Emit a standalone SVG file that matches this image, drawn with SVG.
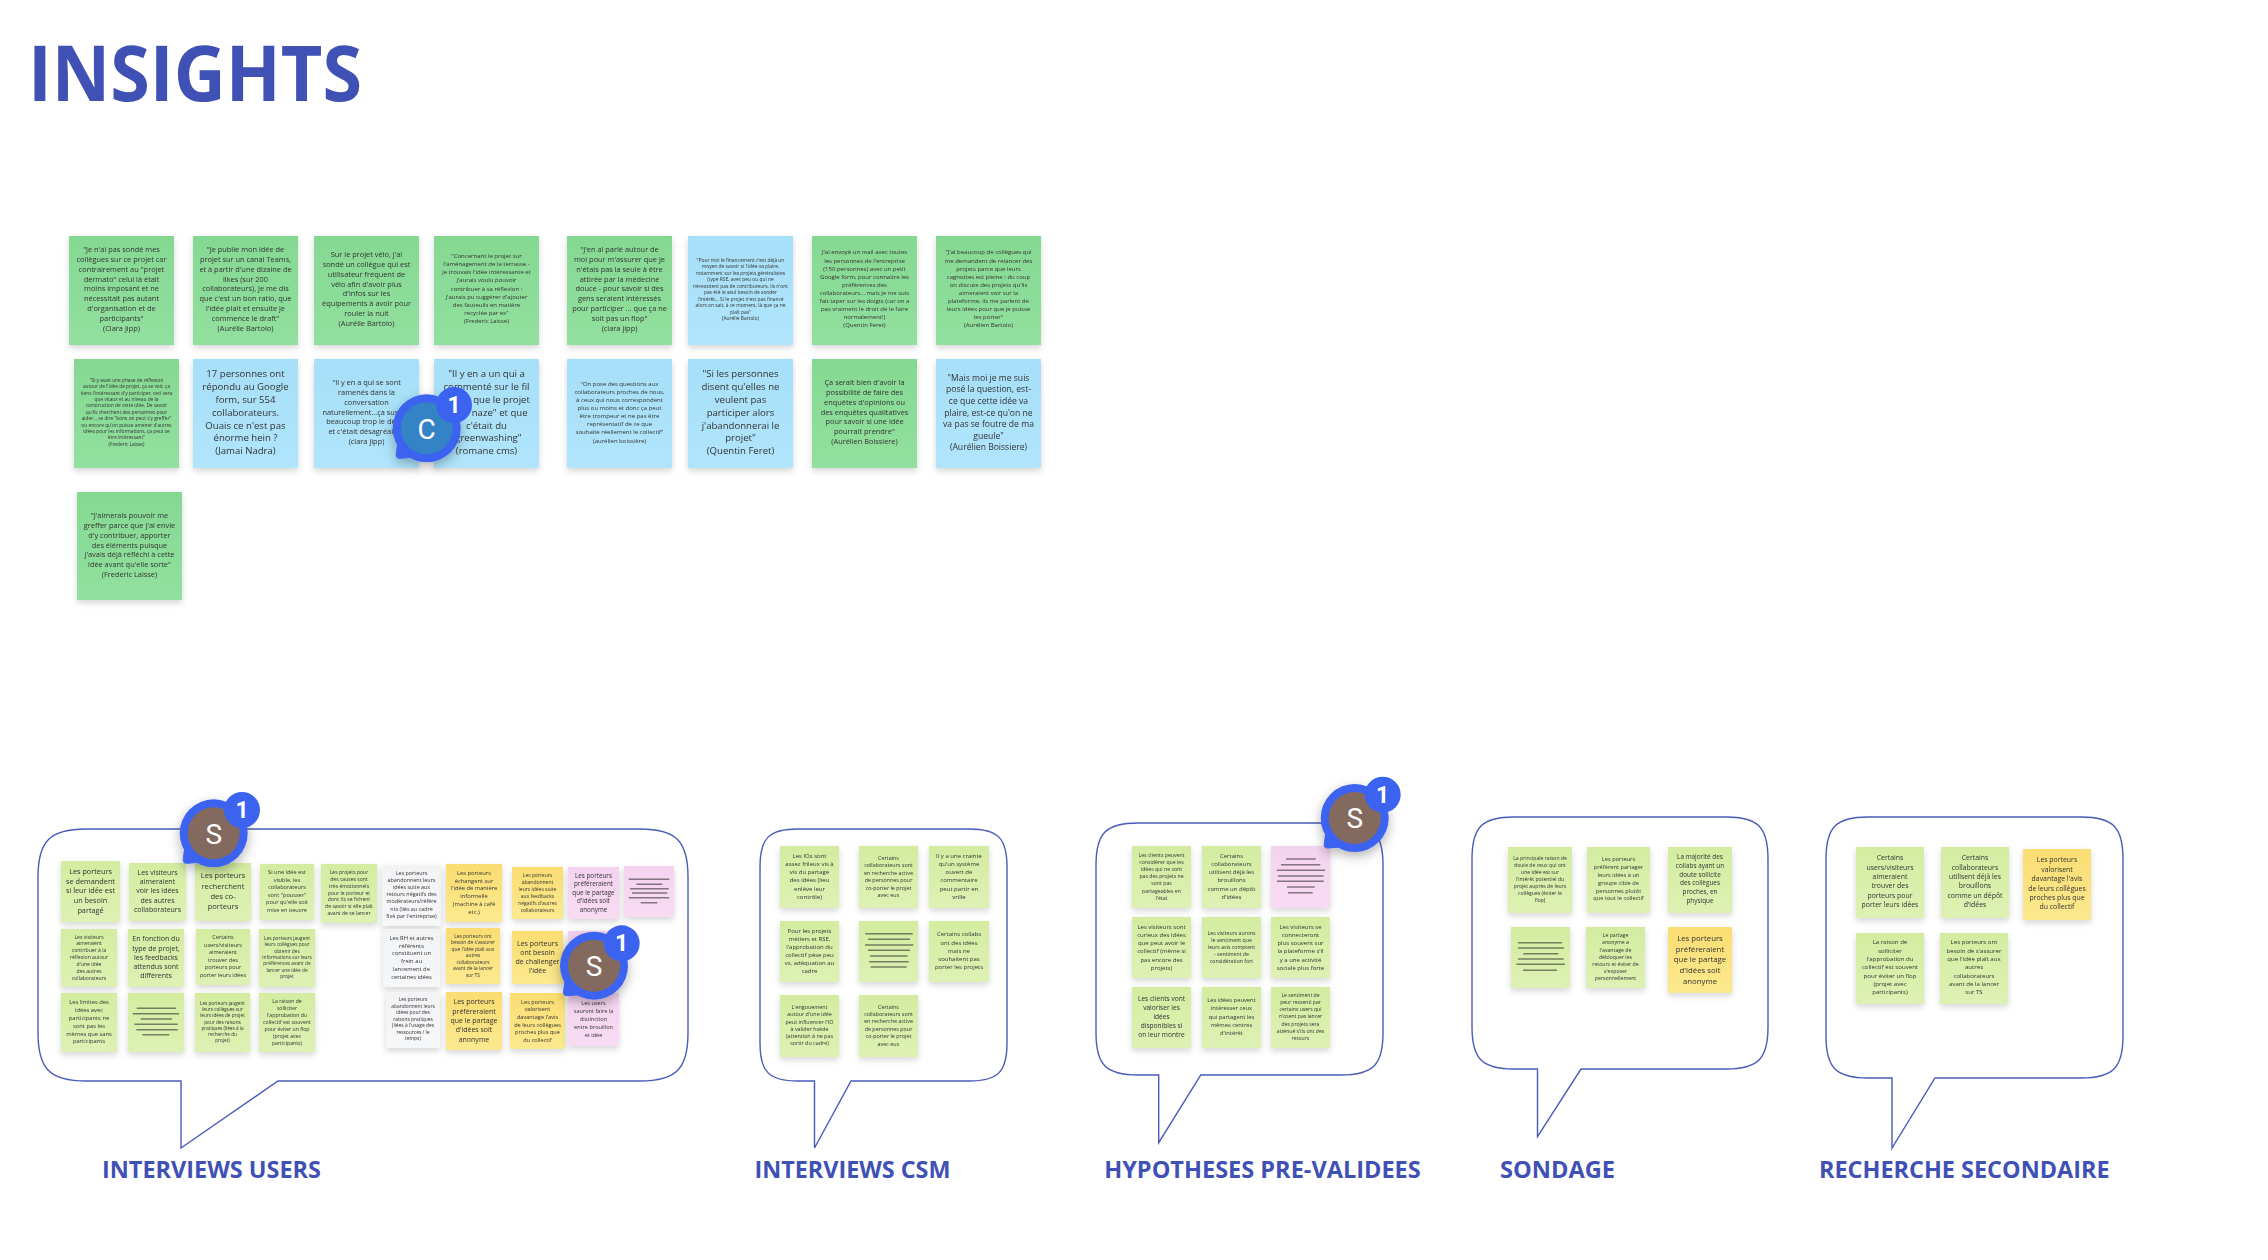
<svg xmlns="http://www.w3.org/2000/svg" xmlns:xlink="http://www.w3.org/1999/xlink" width="2268" height="1260" viewBox="0 0 2268 1260">
<style>
text{font-family:"Open Sans","Noto Sans","DejaVu Sans",sans-serif}
.t{fill:#333;text-anchor:middle;filter:url(#soft)}
.st{filter:url(#sh)}
.green{fill:url(#gGreen)}.blue{fill:url(#gBlue)}.lime{fill:url(#gLime)}.yellow{fill:url(#gYellow)}.pink{fill:url(#gPink)}.white{fill:url(#gWhite)}
.bars{fill:none;stroke:#222;stroke-opacity:.55;stroke-width:1.6}
.bub{fill:#fff;stroke:#4a5bb8;stroke-width:1.4}
.title{font-weight:700;fill:#3f51b5;font-size:77px}
.lab{font-weight:700;fill:#3f51b5;font-size:23.400px}
.ini{font-family:Roboto,"Open Sans",sans-serif;fill:#fff;font-size:28px;text-anchor:middle}
.num{font-family:Roboto,"Open Sans",sans-serif;font-weight:700;fill:#fff;font-size:23px;text-anchor:middle}
</style>
<defs>
<linearGradient id="gGreen" x1="0" y1="0" x2="0" y2="1"><stop offset="0" stop-color="#85d892"/><stop offset="1" stop-color="#92e09f"/></linearGradient>
<linearGradient id="gBlue" x1="0" y1="0" x2="0" y2="1"><stop offset="0" stop-color="#a6dff8"/><stop offset="1" stop-color="#b0e5fc"/></linearGradient>
<linearGradient id="gLime" x1="0" y1="0" x2="0" y2="1"><stop offset="0" stop-color="#d3eca0"/><stop offset="1" stop-color="#def1b4"/></linearGradient>
<linearGradient id="gYellow" x1="0" y1="0" x2="0" y2="1"><stop offset="0" stop-color="#fadd72"/><stop offset="1" stop-color="#fce98f"/></linearGradient>
<linearGradient id="gPink" x1="0" y1="0" x2="0" y2="1"><stop offset="0" stop-color="#f4d3ee"/><stop offset="1" stop-color="#f8dcf3"/></linearGradient>
<linearGradient id="gWhite" x1="0" y1="0" x2="0" y2="1"><stop offset="0" stop-color="#f2f3f5"/><stop offset="1" stop-color="#f6f7f9"/></linearGradient>
<filter id="sh" x="-20%" y="-20%" width="140%" height="150%"><feDropShadow dx="0" dy="3" stdDeviation="3" flood-color="#000" flood-opacity=".16"/></filter>
<filter id="bsh" x="-40%" y="-40%" width="180%" height="180%"><feDropShadow dx="0" dy="4" stdDeviation="6" flood-color="#000" flood-opacity=".3"/></filter>
<filter id="soft" x="-5%" y="-5%" width="110%" height="110%"><feGaussianBlur stdDeviation=".3"/></filter>
<g id="badge"><g filter="url(#bsh)"><circle r="34" fill="#3b63f0"/><path d="M-29 15L-30.500 26Q-31 30.500-26 30L-14 29Z" fill="#3b63f0" stroke="#3b63f0" stroke-width="1"/></g></g>
</defs>
<rect width="2268" height="1260" fill="#fff"/>
<text id="title" class="title" x="28" y="101" textLength="334" lengthAdjust="spacingAndGlyphs">INSIGHTS</text>

<g id="bubbles">
<path class="bub" d="M86 829H640C676 829 688 841 688 877V1033C688 1069 676 1081 640 1081H278L181 1148V1081H86C50 1081 38 1069 38 1033V877C38 841 50 829 86 829Z"/>
<path class="bub" d="M798 829H969C998 829 1007 838 1007 867V1043C1007 1072 998 1081 969 1081H851L814.500 1148V1081H798C769 1081 760 1072 760 1043V867C760 838 769 829 798 829Z"/>
<path class="bub" d="M1138 823H1341C1373 823 1383 833 1383 865V1033C1383 1065 1373 1075 1341 1075H1200.800L1158.700 1142.700V1075H1138C1106 1075 1096 1065 1096 1033V865C1096 833 1106 823 1138 823Z"/>
<path class="bub" d="M1514 817H1726C1758 817 1768 827 1768 859V1027C1768 1059 1758 1069 1726 1069H1581L1537.500 1136.700V1069H1514C1482 1069 1472 1059 1472 1027V859C1472 827 1482 817 1514 817Z"/>
<path class="bub" d="M1868 817H2081C2113 817 2123 827 2123 859V1036C2123 1068 2113 1078 2081 1078H1935L1892 1148V1078H1868C1836 1078 1826 1068 1826 1036V859C1826 827 1836 817 1868 817Z"/>
</g>
<g id="labels">
<text class="lab" x="102" y="1178" textLength="219" lengthAdjust="spacingAndGlyphs">INTERVIEWS USERS</text>
<text class="lab" x="754.500" y="1178" textLength="196" lengthAdjust="spacingAndGlyphs">INTERVIEWS CSM</text>
<text class="lab" x="1104.200" y="1178" textLength="316.500" lengthAdjust="spacingAndGlyphs">HYPOTHESES PRE-VALIDEES</text>
<text class="lab" x="1500" y="1178" textLength="115" lengthAdjust="spacingAndGlyphs">SONDAGE</text>
<text class="lab" x="1819" y="1178" textLength="290.500" lengthAdjust="spacingAndGlyphs">RECHERCHE SECONDAIRE</text>
</g>

<g id="q1"><rect class="st green" x="69" y="236" width="105" height="109"/><text class="t" font-size="7.4" y="252"><tspan x="121.500">"Je n'ai pas sondé mes</tspan><tspan x="121.500" dy="9.87">collègues sur ce projet car</tspan><tspan x="121.500" dy="9.87">contrairement au "projet</tspan><tspan x="121.500" dy="9.87">dermato" celui là était</tspan><tspan x="121.500" dy="9.87">moins imposant et ne</tspan><tspan x="121.500" dy="9.87">nécessitait pas autant</tspan><tspan x="121.500" dy="9.87">d'organisation et de</tspan><tspan x="121.500" dy="9.87">participants"</tspan><tspan x="121.500" dy="9.87">(Clara Jipp)</tspan></text></g>
<g id="q2"><rect class="st green" x="193" y="236" width="105" height="109"/><text class="t" font-size="7.4" y="252"><tspan x="245.500">"Je publie mon idée de</tspan><tspan x="245.500" dy="9.87">projet sur un canal Teams,</tspan><tspan x="245.500" dy="9.87">et à partir d'une dizaine de</tspan><tspan x="245.500" dy="9.87">likes (sur 200</tspan><tspan x="245.500" dy="9.87">collaborateurs), je me dis</tspan><tspan x="245.500" dy="9.87">que c'est un bon ratio, que</tspan><tspan x="245.500" dy="9.87">l'idée plait et ensuite je</tspan><tspan x="245.500" dy="9.87">commence le draft"</tspan><tspan x="245.500" dy="9.87">(Aurélie Bartolo)</tspan></text></g>
<g id="q3"><rect class="st green" x="314" y="236" width="105" height="109"/><text class="t" font-size="7.4" y="256.900"><tspan x="366.500">Sur le projet vélo, j'ai</tspan><tspan x="366.500" dy="9.87">sondé un collègue qui est</tspan><tspan x="366.500" dy="9.87">utilisateur fréquent de</tspan><tspan x="366.500" dy="9.87">vélo afin d'avoir plus</tspan><tspan x="366.500" dy="9.87">d'infos sur les</tspan><tspan x="366.500" dy="9.87">équipements à avoir pour</tspan><tspan x="366.500" dy="9.87">rouler la nuit</tspan><tspan x="366.500" dy="9.87">(Aurélie Bartolo)</tspan></text></g>
<g id="q4"><rect class="st green" x="434" y="236" width="105" height="109"/><text class="t" font-size="6" y="258.100"><tspan x="486.500">"Concernant le projet sur</tspan><tspan x="486.500" dy="8.1">l'aménagement de la terrasse -</tspan><tspan x="486.500" dy="8.1">je trouvais l'idée intéressante et</tspan><tspan x="486.500" dy="8.1">j'aurais voulu pouvoir</tspan><tspan x="486.500" dy="8.1">contribuer à sa réflexion :</tspan><tspan x="486.500" dy="8.1">j'aurais pu suggérer d'ajouter</tspan><tspan x="486.500" dy="8.1">des fauteuils en matière</tspan><tspan x="486.500" dy="8.1">recyclée par ex"</tspan><tspan x="486.500" dy="8.1">(Frederic Laisse)</tspan></text></g>
<g id="q5"><rect class="st green" x="74" y="359" width="105" height="109"/><text class="t" font-size="4.8" y="381.700"><tspan x="126.500">"Si y avait une phase de réflexion</tspan><tspan x="126.500" dy="6.4">autour de l'idée de projet, ça se voit, ça</tspan><tspan x="126.500" dy="6.4">tiens l'intéressant d'y participer, ceci sera</tspan><tspan x="126.500" dy="6.4">que vitaux et au niveau de la</tspan><tspan x="126.500" dy="6.4">construction de cette idée. De savoir</tspan><tspan x="126.500" dy="6.4">qu'ils cherchent des personnes pour</tspan><tspan x="126.500" dy="6.4">aider... se dire "bons on peut s'y greffer"</tspan><tspan x="126.500" dy="6.4">ou encore qu'on puisse amener d'autres</tspan><tspan x="126.500" dy="6.4">idées pour les informations, ça peut se</tspan><tspan x="126.500" dy="6.4">être intéressant"</tspan><tspan x="126.500" dy="6.4">(Frederic Laisse)</tspan></text></g>
<g id="q6"><rect class="st blue" x="193" y="359" width="105" height="109"/><text class="t" font-size="9.6" y="377.400"><tspan x="245.500">17 personnes ont</tspan><tspan x="245.500" dy="12.8">répondu au Google</tspan><tspan x="245.500" dy="12.8">form, sur 554</tspan><tspan x="245.500" dy="12.8">collaborateurs.</tspan><tspan x="245.500" dy="12.8">Ouais ce n'est pas</tspan><tspan x="245.500" dy="12.8">énorme hein ?</tspan><tspan x="245.500" dy="12.8">(Jamai Nadra)</tspan></text></g>
<g id="q7"><rect class="st blue" x="314" y="359" width="105" height="109"/><text class="t" font-size="7.4" y="384.900"><tspan x="366.500">"Il y en a qui se sont</tspan><tspan x="366.500" dy="9.87">ramenés dans la</tspan><tspan x="366.500" dy="9.87">conversation</tspan><tspan x="366.500" dy="9.87">naturellement...ça suscite</tspan><tspan x="366.500" dy="9.87">beaucoup trop le débat</tspan><tspan x="366.500" dy="9.87">et c'était désagréable"</tspan><tspan x="366.500" dy="9.87">(clara jipp)</tspan></text></g>
<g id="q8"><rect class="st blue" x="434" y="359" width="105" height="109"/><text class="t" font-size="9.6" y="377.400"><tspan x="486.500">"Il y en a un qui a</tspan><tspan x="486.500" dy="12.8">commenté sur le fil</tspan><tspan x="486.500" dy="12.8">disant que le projet</tspan><tspan x="486.500" dy="12.8">était "naze" et que</tspan><tspan x="486.500" dy="12.8">c'était du</tspan><tspan x="486.500" dy="12.8">"greenwashing"</tspan><tspan x="486.500" dy="12.8">(romane cms)</tspan></text></g>
<g id="q9"><rect class="st green" x="567" y="236" width="105" height="109"/><text class="t" font-size="7.4" y="252"><tspan x="619.500">"J'en ai parlé autour de</tspan><tspan x="619.500" dy="9.87">moi pour m'assurer que je</tspan><tspan x="619.500" dy="9.87">n'étais pas la seule à être</tspan><tspan x="619.500" dy="9.87">attirée par la médecine</tspan><tspan x="619.500" dy="9.87">douce - pour savoir si des</tspan><tspan x="619.500" dy="9.87">gens seraient intéressés</tspan><tspan x="619.500" dy="9.87">pour participer ... que ça ne</tspan><tspan x="619.500" dy="9.87">soit pas un flop"</tspan><tspan x="619.500" dy="9.87">(clara jipp)</tspan></text></g>
<g id="q10"><rect class="st blue" x="688" y="236" width="105" height="109"/><text class="t" font-size="4.9" y="261.700"><tspan x="740.500">"Pour moi le financement c'est déjà un</tspan><tspan x="740.500" dy="6.5">moyen de savoir si l'idée va plaire,</tspan><tspan x="740.500" dy="6.5">notamment sur les projets généralistes</tspan><tspan x="740.500" dy="6.5">(type RSE, avec peu ou qui ne</tspan><tspan x="740.500" dy="6.5">nécessitent pas de contributeurs, ils n'ont</tspan><tspan x="740.500" dy="6.5">pas été le seul besoin de sonder</tspan><tspan x="740.500" dy="6.5">l'intérêt... Si le projet n'est pas financé</tspan><tspan x="740.500" dy="6.5">alors on sait, à ce moment, là que ça ne</tspan><tspan x="740.500" dy="6.5">plaît pas"</tspan><tspan x="740.500" dy="6.5">(Aurélie Bartolo)</tspan></text></g>
<g id="q11"><rect class="st green" x="812" y="236" width="105" height="109"/><text class="t" font-size="6" y="254.400"><tspan x="864.500">J'ai envoyé un mail avec toutes</tspan><tspan x="864.500" dy="8.1">les personnes de l'entreprise</tspan><tspan x="864.500" dy="8.1">(150 personnes) avec un petit</tspan><tspan x="864.500" dy="8.1">Google form, pour connaitre les</tspan><tspan x="864.500" dy="8.1">préférences des</tspan><tspan x="864.500" dy="8.1">collaborateurs... mais je me suis</tspan><tspan x="864.500" dy="8.1">fait taper sur les doigts (car on a</tspan><tspan x="864.500" dy="8.1">pas vraiment le droit de le faire</tspan><tspan x="864.500" dy="8.1">normalement!)</tspan><tspan x="864.500" dy="8.1">(Quentin Feret)</tspan></text></g>
<g id="q12"><rect class="st green" x="936" y="236" width="105" height="109"/><text class="t" font-size="6" y="254.400"><tspan x="988.500">"J'ai beaucoup de collègues qui</tspan><tspan x="988.500" dy="8.1">me demandent de relancer des</tspan><tspan x="988.500" dy="8.1">projets parce que leurs</tspan><tspan x="988.500" dy="8.1">cagnottes est pleine : du coup</tspan><tspan x="988.500" dy="8.1">on discute des projets qu'ils</tspan><tspan x="988.500" dy="8.1">aimeraient voir sur la</tspan><tspan x="988.500" dy="8.1">plateforme, ils me parlent de</tspan><tspan x="988.500" dy="8.1">leurs idées pour que je puisse</tspan><tspan x="988.500" dy="8.1">les porter"</tspan><tspan x="988.500" dy="8.1">(Aurélien Bartolo)</tspan></text></g>
<g id="q13"><rect class="st blue" x="567" y="359" width="105" height="109"/><text class="t" font-size="6" y="385.800"><tspan x="619.500">"On pose des questions aux</tspan><tspan x="619.500" dy="8.1">collaborateurs proches de nous,</tspan><tspan x="619.500" dy="8.1">à ceux qui nous correspondent</tspan><tspan x="619.500" dy="8.1">plus ou moins et donc ça peut</tspan><tspan x="619.500" dy="8.1">être trompeur et ne pas être</tspan><tspan x="619.500" dy="8.1">représentatif de ce que</tspan><tspan x="619.500" dy="8.1">souhaite réellement le collectif"</tspan><tspan x="619.500" dy="8.1">(aurélien boissière)</tspan></text></g>
<g id="q14"><rect class="st blue" x="688" y="359" width="105" height="109"/><text class="t" font-size="9.6" y="377.400"><tspan x="740.500">"Si les personnes</tspan><tspan x="740.500" dy="12.8">disent qu'elles ne</tspan><tspan x="740.500" dy="12.8">veulent pas</tspan><tspan x="740.500" dy="12.8">participer alors</tspan><tspan x="740.500" dy="12.8">j'abandonnerai le</tspan><tspan x="740.500" dy="12.8">projet"</tspan><tspan x="740.500" dy="12.8">(Quentin Feret)</tspan></text></g>
<g id="q15"><rect class="st green" x="812" y="359" width="105" height="109"/><text class="t" font-size="7.4" y="384.900"><tspan x="864.500">Ça serait bien d'avoir la</tspan><tspan x="864.500" dy="9.87">possibilité de faire des</tspan><tspan x="864.500" dy="9.87">enquêtes d'opinions ou</tspan><tspan x="864.500" dy="9.87">des enquêtes qualitatives</tspan><tspan x="864.500" dy="9.87">pour savoir si une idée</tspan><tspan x="864.500" dy="9.87">pourrait prendre"</tspan><tspan x="864.500" dy="9.87">(Aurélien Boissiere)</tspan></text></g>
<g id="q16"><rect class="st blue" x="936" y="359" width="105" height="109"/><text class="t" font-size="8.6" y="380.700"><tspan x="988.500">"Mais moi je me suis</tspan><tspan x="988.500" dy="11.6">posé la question, est-</tspan><tspan x="988.500" dy="11.6">ce que cette idée va</tspan><tspan x="988.500" dy="11.6">plaire, est-ce qu'on ne</tspan><tspan x="988.500" dy="11.6">va pas se foutre de ma</tspan><tspan x="988.500" dy="11.6">gueule"</tspan><tspan x="988.500" dy="11.6">(Aurélien Boissiere)</tspan></text></g>
<g id="q17"><rect class="st green" x="77" y="492" width="105" height="108"/><text class="t" font-size="7.4" y="517.900"><tspan x="129.500">"J'aimerais pouvoir me</tspan><tspan x="129.500" dy="9.87">greffer parce que j'ai envie</tspan><tspan x="129.500" dy="9.87">d'y contribuer, apporter</tspan><tspan x="129.500" dy="9.87">des éléments puisque</tspan><tspan x="129.500" dy="9.87">j'avais déjà réfléchi à cette</tspan><tspan x="129.500" dy="9.87">idée avant qu'elle sorte"</tspan><tspan x="129.500" dy="9.87">(Frederic Laisse)</tspan></text></g>

<g id="u1"><rect class="st lime" x="61" y="861" width="59" height="61"/><text class="t" font-size="7.3" y="873.900"><tspan x="90.500">Les porteurs</tspan><tspan x="90.500" dy="9.7">se demandent</tspan><tspan x="90.500" dy="9.7">si leur idée est</tspan><tspan x="90.500" dy="9.7">un besoin</tspan><tspan x="90.500" dy="9.7">partagé</tspan></text></g>
<g id="u2"><rect class="st lime" x="129" y="863" width="57" height="58"/><text class="t" font-size="7" y="874.800"><tspan x="157.500">Les visiteurs</tspan><tspan x="157.500" dy="9.3">aimeraient</tspan><tspan x="157.500" dy="9.3">voir les idées</tspan><tspan x="157.500" dy="9.3">des autres</tspan><tspan x="157.500" dy="9.3">collaborateurs</tspan></text></g>
<g id="u3"><rect class="st lime" x="195" y="863" width="56" height="58"/><text class="t" font-size="7.6" y="878.400"><tspan x="223">Les porteurs</tspan><tspan x="223" dy="10.2">recherchent</tspan><tspan x="223" dy="10.2">des co-</tspan><tspan x="223" dy="10.2">porteurs</tspan></text></g>
<g id="u4"><rect class="st lime" x="260" y="864" width="54" height="56"/><text class="t" font-size="5.6" y="874.300"><tspan x="287">Si une idée est</tspan><tspan x="287" dy="7.5">visible, les</tspan><tspan x="287" dy="7.5">collaborateurs</tspan><tspan x="287" dy="7.5">vont "pousser"</tspan><tspan x="287" dy="7.5">pour qu'elle soit</tspan><tspan x="287" dy="7.5">mise en oeuvre</tspan></text></g>
<g id="u5"><rect class="st lime" x="321" y="864" width="56" height="59"/><text class="t" font-size="5.1" y="874.100"><tspan x="349">Les projets pour</tspan><tspan x="349" dy="6.8">des causes sont</tspan><tspan x="349" dy="6.8">très émotionnels</tspan><tspan x="349" dy="6.8">pour le porteur et</tspan><tspan x="349" dy="6.8">donc ils se fichent</tspan><tspan x="349" dy="6.8">de savoir si elle plaît</tspan><tspan x="349" dy="6.8">avant de se lancer</tspan></text></g>
<g id="u6"><rect class="st lime" x="61" y="929" width="56" height="58"/><text class="t" font-size="5.1" y="938.500"><tspan x="89">Les visiteurs</tspan><tspan x="89" dy="6.85">aimeraient</tspan><tspan x="89" dy="6.85">contribuer à la</tspan><tspan x="89" dy="6.85">réflexion autour</tspan><tspan x="89" dy="6.85">d'une idée</tspan><tspan x="89" dy="6.85">des autres</tspan><tspan x="89" dy="6.85">collaborateurs</tspan></text></g>
<g id="u7"><rect class="st lime" x="128" y="929" width="56" height="58"/><text class="t" font-size="7" y="941.200"><tspan x="156">En fonction du</tspan><tspan x="156" dy="9.3">type de projet,</tspan><tspan x="156" dy="9.3">les feedbacks</tspan><tspan x="156" dy="9.3">attendus sont</tspan><tspan x="156" dy="9.3">différents</tspan></text></g>
<g id="u8"><rect class="st lime" x="196" y="929" width="54" height="56"/><text class="t" font-size="5.6" y="939"><tspan x="223">Certains</tspan><tspan x="223" dy="7.5">users/visiteurs</tspan><tspan x="223" dy="7.5">aimeraient</tspan><tspan x="223" dy="7.5">trouver des</tspan><tspan x="223" dy="7.5">porteurs pour</tspan><tspan x="223" dy="7.5">porter leurs idées</tspan></text></g>
<g id="u9"><rect class="st lime" x="259" y="929" width="56" height="58"/><text class="t" font-size="4.8" y="939.700"><tspan x="287">Les porteurs jaugent</tspan><tspan x="287" dy="6.4">leurs collègues pour</tspan><tspan x="287" dy="6.4">obtenir des</tspan><tspan x="287" dy="6.4">informations sur leurs</tspan><tspan x="287" dy="6.4">préférences avant de</tspan><tspan x="287" dy="6.4">lancer une idée de</tspan><tspan x="287" dy="6.4">projet</tspan></text></g>
<g id="u10"><rect class="st lime" x="61" y="993" width="56" height="59"/><text class="t" font-size="5.8" y="1004.300"><tspan x="89">Les limites des</tspan><tspan x="89" dy="7.8">idées avec</tspan><tspan x="89" dy="7.8">participants ne</tspan><tspan x="89" dy="7.8">sont pas les</tspan><tspan x="89" dy="7.8">mêmes que sans</tspan><tspan x="89" dy="7.8">participants</tspan></text></g>
<g id="u11"><rect class="st lime" x="128" y="993" width="56" height="59"/><path class="bars" d="M136.700 1008.300H176M132.700 1013.700H179M140.700 1019H172M134.300 1024.300H177.700M136.300 1029.700H177.700M142.300 1034.700H169.300"/></g>
<g id="u12"><rect class="st lime" x="195" y="993" width="55" height="59"/><text class="t" font-size="4.7" y="1004.600"><tspan x="222.500">Les porteurs jaugent</tspan><tspan x="222.500" dy="6.3">leurs collègues sur</tspan><tspan x="222.500" dy="6.3">leurs idées de projet</tspan><tspan x="222.500" dy="6.3">pour des raisons</tspan><tspan x="222.500" dy="6.3">pratiques (liées à la</tspan><tspan x="222.500" dy="6.3">recherche du</tspan><tspan x="222.500" dy="6.3">projet)</tspan></text></g>
<g id="u13"><rect class="st lime" x="259" y="993" width="56" height="59"/><text class="t" font-size="5.2" y="1002.500"><tspan x="287">La raison de</tspan><tspan x="287" dy="7">solliciter</tspan><tspan x="287" dy="7">l'approbation du</tspan><tspan x="287" dy="7">collectif est souvent</tspan><tspan x="287" dy="7">pour éviter un flop</tspan><tspan x="287" dy="7">(projet avec</tspan><tspan x="287" dy="7">participants)</tspan></text></g>
<g id="u14"><rect class="st white" x="382" y="865" width="59" height="61"/><text class="t" font-size="5.4" y="874.600"><tspan x="411.500">Les porteurs</tspan><tspan x="411.500" dy="7.2">abandonnent leurs</tspan><tspan x="411.500" dy="7.2">idées suite aux</tspan><tspan x="411.500" dy="7.2">retours négatifs des</tspan><tspan x="411.500" dy="7.2">modérateurs/référe</tspan><tspan x="411.500" dy="7.2">nts (liés au cadre</tspan><tspan x="411.500" dy="7.2">fixé par l'entreprise)</tspan></text></g>
<g id="u15"><rect class="st yellow" x="446" y="864" width="56" height="58"/><text class="t" font-size="5.8" y="874.700"><tspan x="474">Les porteurs</tspan><tspan x="474" dy="7.8">échangent sur</tspan><tspan x="474" dy="7.8">l'idée de manière</tspan><tspan x="474" dy="7.8">informelle</tspan><tspan x="474" dy="7.8">(machine à café</tspan><tspan x="474" dy="7.8">etc.)</tspan></text></g>
<g id="u16"><rect class="st yellow" x="512" y="867" width="51" height="52"/><text class="t" font-size="5" y="876.500"><tspan x="537.500">Les porteurs</tspan><tspan x="537.500" dy="7.1">abandonnent</tspan><tspan x="537.500" dy="7.1">leurs idées suite</tspan><tspan x="537.500" dy="7.1">aux feedbacks</tspan><tspan x="537.500" dy="7.1">négatifs d'autres</tspan><tspan x="537.500" dy="7.1">collaborateurs</tspan></text></g>
<g id="u17"><rect class="st pink" x="568" y="867" width="51" height="52"/><text class="t" font-size="6.3" y="877.500"><tspan x="593.500">Les porteurs</tspan><tspan x="593.500" dy="8.5">préféreraient</tspan><tspan x="593.500" dy="8.5">que le partage</tspan><tspan x="593.500" dy="8.5">d'idées soit</tspan><tspan x="593.500" dy="8.5">anonyme</tspan></text></g>
<g id="u18"><rect class="st pink" x="624" y="866" width="50" height="51"/><path class="bars" d="M628.700 879.300H669.300M636.300 884.300H662.300M630 888.700H668.700M632 893H667.300M628.700 897.700H669.300M640.700 902.700H657.300"/></g>
<g id="u19"><rect class="st white" x="383" y="929" width="57" height="58"/><text class="t" font-size="5.8" y="940"><tspan x="411.500">Les RH et autres</tspan><tspan x="411.500" dy="7.7">référents</tspan><tspan x="411.500" dy="7.7">constituent un</tspan><tspan x="411.500" dy="7.7">frein au</tspan><tspan x="411.500" dy="7.7">lancement de</tspan><tspan x="411.500" dy="7.7">certaines idées</tspan></text></g>
<g id="u20"><rect class="st yellow" x="446" y="928" width="54" height="56"/><text class="t" font-size="4.9" y="937.700"><tspan x="473">Les porteurs ont</tspan><tspan x="473" dy="6.5">besoin de s'assurer</tspan><tspan x="473" dy="6.5">que l'idée plaît aux</tspan><tspan x="473" dy="6.5">autres</tspan><tspan x="473" dy="6.5">collaborateurs</tspan><tspan x="473" dy="6.5">avant de la lancer</tspan><tspan x="473" dy="6.5">sur TS</tspan></text></g>
<g id="u21"><rect class="st yellow" x="512" y="931" width="51" height="53"/><text class="t" font-size="7" y="945.500"><tspan x="537.500">Les porteurs</tspan><tspan x="537.500" dy="9.3">ont besoin</tspan><tspan x="537.500" dy="9.3">de challenger</tspan><tspan x="537.500" dy="9.3">l'idée</tspan></text></g>
<g id="u22"><rect class="st pink" x="568" y="931" width="51" height="53"/></g>
<g id="u23"><rect class="st white" x="386" y="992" width="54" height="56"/><text class="t" font-size="4.9" y="1001"><tspan x="413">Les porteurs</tspan><tspan x="413" dy="6.5">abandonnent leurs</tspan><tspan x="413" dy="6.5">idées pour des</tspan><tspan x="413" dy="6.5">raisons pratiques</tspan><tspan x="413" dy="6.5">(liées à l'usage des</tspan><tspan x="413" dy="6.5">ressources / le</tspan><tspan x="413" dy="6.5">temps)</tspan></text></g>
<g id="u24"><rect class="st yellow" x="446" y="992" width="56" height="58"/><text class="t" font-size="7" y="1004.200"><tspan x="474">Les porteurs</tspan><tspan x="474" dy="9.4">préféreraient</tspan><tspan x="474" dy="9.4">que le partage</tspan><tspan x="474" dy="9.4">d'idées soit</tspan><tspan x="474" dy="9.4">anonyme</tspan></text></g>
<g id="u25"><rect class="st yellow" x="510" y="993" width="55" height="56"/><text class="t" font-size="5.6" y="1003.700"><tspan x="537.500">Les porteurs</tspan><tspan x="537.500" dy="7.6">valorisent</tspan><tspan x="537.500" dy="7.6">davantage l'avis</tspan><tspan x="537.500" dy="7.6">de leurs collègues</tspan><tspan x="537.500" dy="7.6">proches plus que</tspan><tspan x="537.500" dy="7.6">du collectif</tspan></text></g>
<g id="u26"><rect class="st pink" x="568" y="993" width="51" height="53"/><text class="t" font-size="5.6" y="1004.700"><tspan x="593.500">Les users</tspan><tspan x="593.500" dy="8">sauront faire la</tspan><tspan x="593.500" dy="8">distinction</tspan><tspan x="593.500" dy="8">entre brouillon</tspan><tspan x="593.500" dy="8">et idée</tspan></text></g>

<g id="c1"><rect class="st lime" x="780" y="846" width="59" height="62"/><text class="t" font-size="6" y="857.800"><tspan x="809.500">Les IOs sont</tspan><tspan x="809.500" dy="8.2">assez frileux vis à</tspan><tspan x="809.500" dy="8.2">vis du partage</tspan><tspan x="809.500" dy="8.2">des idées (lieu</tspan><tspan x="809.500" dy="8.2">enlève leur</tspan><tspan x="809.500" dy="8.2">contrôle)</tspan></text></g>
<g id="c2"><rect class="st lime" x="859" y="846" width="59" height="62"/><text class="t" font-size="5.4" y="859.900"><tspan x="888.500">Certains</tspan><tspan x="888.500" dy="7.4">collaborateurs sont</tspan><tspan x="888.500" dy="7.4">en recherche active</tspan><tspan x="888.500" dy="7.4">de personnes pour</tspan><tspan x="888.500" dy="7.4">co-porter le projet</tspan><tspan x="888.500" dy="7.4">avec eux</tspan></text></g>
<g id="c3"><rect class="st lime" x="929" y="846" width="60" height="62"/><text class="t" font-size="6" y="857.800"><tspan x="959">Il y a une crainte</tspan><tspan x="959" dy="8.2">qu'un système</tspan><tspan x="959" dy="8.2">ouvert de</tspan><tspan x="959" dy="8.2">commentaire</tspan><tspan x="959" dy="8.2">peut partir en</tspan><tspan x="959" dy="8.2">vrille</tspan></text></g>
<g id="c4"><rect class="st lime" x="780" y="921" width="59" height="61"/><text class="t" font-size="6" y="932.800"><tspan x="809.500">Pour les projets</tspan><tspan x="809.500" dy="8.1">métiers et RSE,</tspan><tspan x="809.500" dy="8.1">l'approbation du</tspan><tspan x="809.500" dy="8.1">collectif pèse peu</tspan><tspan x="809.500" dy="8.1">vs. adéquation au</tspan><tspan x="809.500" dy="8.1">cadre</tspan></text></g>
<g id="c5"><rect class="st lime" x="859" y="921" width="59" height="61"/><path class="bars" d="M865.300 933.700H912.700M868 939.300H910M865 945H913.300M868 950.300H910M870 956H907.700M869.300 961.700H908.700M870.700 967H906.700"/></g>
<g id="c6"><rect class="st lime" x="929" y="921" width="60" height="61"/><text class="t" font-size="6" y="936.400"><tspan x="959">Certains collabs</tspan><tspan x="959" dy="8.1">ont des idées</tspan><tspan x="959" dy="8.1">mais ne</tspan><tspan x="959" dy="8.1">souhaitent pas</tspan><tspan x="959" dy="8.1">porter les projets</tspan></text></g>
<g id="c7"><rect class="st lime" x="780" y="995" width="59" height="62"/><text class="t" font-size="5.4" y="1008.900"><tspan x="809.500">L'engouement</tspan><tspan x="809.500" dy="7.3">autour d'une idée</tspan><tspan x="809.500" dy="7.3">peut influencer l'IO</tspan><tspan x="809.500" dy="7.3">à valider hsède</tspan><tspan x="809.500" dy="7.3">(attention à ne pas</tspan><tspan x="809.500" dy="7.3">sortir du cadre)</tspan></text></g>
<g id="c8"><rect class="st lime" x="859" y="995" width="59" height="62"/><text class="t" font-size="5.4" y="1008.600"><tspan x="888.500">Certains</tspan><tspan x="888.500" dy="7.4">collaborateurs sont</tspan><tspan x="888.500" dy="7.4">en recherche active</tspan><tspan x="888.500" dy="7.4">de personnes pour</tspan><tspan x="888.500" dy="7.4">co-porter le projet</tspan><tspan x="888.500" dy="7.4">avec eux</tspan></text></g>

<g id="h1"><rect class="st lime" x="1132" y="846" width="59" height="62"/><text class="t" font-size="5.2" y="856.500"><tspan x="1161.500">Les clients peuvent</tspan><tspan x="1161.500" dy="7.2">considérer que les</tspan><tspan x="1161.500" dy="7.2">idées qui ne sont</tspan><tspan x="1161.500" dy="7.2">pas des projets ne</tspan><tspan x="1161.500" dy="7.2">sont pas</tspan><tspan x="1161.500" dy="7.2">partageables en</tspan><tspan x="1161.500" dy="7.2">l'état</tspan></text></g>
<g id="h2"><rect class="st lime" x="1202" y="846" width="59" height="62"/><text class="t" font-size="6" y="857.800"><tspan x="1231.500">Certains</tspan><tspan x="1231.500" dy="8.2">collaborateurs</tspan><tspan x="1231.500" dy="8.2">utilisent déjà les</tspan><tspan x="1231.500" dy="8.2">brouillons</tspan><tspan x="1231.500" dy="8.2">comme un dépôt</tspan><tspan x="1231.500" dy="8.2">d'idées</tspan></text></g>
<g id="h3"><rect class="st pink" x="1271" y="846" width="59" height="62"/><path class="bars" d="M1286 859H1315.700M1281 864.700H1320.300M1276.700 870.300H1325M1278 876H1323.700M1277 881.300H1323.700M1287 887H1314.700M1288 892.700H1312.700"/></g>
<g id="h4"><rect class="st lime" x="1132" y="917" width="59" height="61"/><text class="t" font-size="6" y="928.800"><tspan x="1161.500">Les visiteurs sont</tspan><tspan x="1161.500" dy="8.2">curieux des idées</tspan><tspan x="1161.500" dy="8.2">que peut avoir le</tspan><tspan x="1161.500" dy="8.2">collectif (même si</tspan><tspan x="1161.500" dy="8.2">pas encore des</tspan><tspan x="1161.500" dy="8.2">projets)</tspan></text></g>
<g id="h5"><rect class="st lime" x="1202" y="917" width="59" height="61"/><text class="t" font-size="5.2" y="934.500"><tspan x="1231.500">Les visiteurs aurons</tspan><tspan x="1231.500" dy="7.2">le sentiment que</tspan><tspan x="1231.500" dy="7.2">leurs avis comptent</tspan><tspan x="1231.500" dy="7.2">- sentiment de</tspan><tspan x="1231.500" dy="7.2">considération fort</tspan></text></g>
<g id="h6"><rect class="st lime" x="1271" y="917" width="59" height="61"/><text class="t" font-size="6" y="928.800"><tspan x="1300.500">Les visiteurs se</tspan><tspan x="1300.500" dy="8.2">connecteront</tspan><tspan x="1300.500" dy="8.2">plus souvent sur</tspan><tspan x="1300.500" dy="8.2">la plateforme s'il</tspan><tspan x="1300.500" dy="8.2">y a une activité</tspan><tspan x="1300.500" dy="8.2">sociale plus forte</tspan></text></g>
<g id="h7"><rect class="st lime" x="1132" y="987" width="59" height="61"/><text class="t" font-size="6.6" y="1000.600"><tspan x="1161.500">Les clients vont</tspan><tspan x="1161.500" dy="9.1">valoriser les</tspan><tspan x="1161.500" dy="9.1">idées</tspan><tspan x="1161.500" dy="9.1">disponibles si</tspan><tspan x="1161.500" dy="9.1">on leur montre</tspan></text></g>
<g id="h8"><rect class="st lime" x="1202" y="987" width="59" height="61"/><text class="t" font-size="5.8" y="1002.300"><tspan x="1231.500">Les idées peuvent</tspan><tspan x="1231.500" dy="8.1">intéresser ceux</tspan><tspan x="1231.500" dy="8.1">qui partagent les</tspan><tspan x="1231.500" dy="8.1">mêmes centres</tspan><tspan x="1231.500" dy="8.1">d'intérêt</tspan></text></g>
<g id="h9"><rect class="st lime" x="1271" y="987" width="59" height="61"/><text class="t" font-size="5.1" y="996.800"><tspan x="1300.500">Le sentiment de</tspan><tspan x="1300.500" dy="7.2">peur ressenti par</tspan><tspan x="1300.500" dy="7.2">certains users qui</tspan><tspan x="1300.500" dy="7.2">n'osent pas lancer</tspan><tspan x="1300.500" dy="7.2">des projets sera</tspan><tspan x="1300.500" dy="7.2">atténué s'ils ont des</tspan><tspan x="1300.500" dy="7.2">retours</tspan></text></g>

<g id="s1"><rect class="st lime" x="1508" y="847" width="64" height="66"/><text class="t" font-size="5.1" y="859.500"><tspan x="1540">La principale raison de</tspan><tspan x="1540" dy="7.1">doute de ceux qui ont</tspan><tspan x="1540" dy="7.1">une idée est sur</tspan><tspan x="1540" dy="7.1">l'intérêt potentiel du</tspan><tspan x="1540" dy="7.1">projet auprès de leurs</tspan><tspan x="1540" dy="7.1">collègues (éviter le</tspan><tspan x="1540" dy="7.1">flop)</tspan></text></g>
<g id="s2"><rect class="st lime" x="1587" y="847" width="63" height="66"/><text class="t" font-size="5.7" y="861.300"><tspan x="1618.500">Les porteurs</tspan><tspan x="1618.500" dy="7.8">préfèrent partager</tspan><tspan x="1618.500" dy="7.8">leurs idées à un</tspan><tspan x="1618.500" dy="7.8">groupe cible de</tspan><tspan x="1618.500" dy="7.8">personnes plutôt</tspan><tspan x="1618.500" dy="7.8">que tout le collectif</tspan></text></g>
<g id="s3"><rect class="st lime" x="1668" y="847" width="64" height="66"/><text class="t" font-size="6.4" y="858.900"><tspan x="1700">La majorité des</tspan><tspan x="1700" dy="8.8">collabs ayant un</tspan><tspan x="1700" dy="8.8">doute sollicite</tspan><tspan x="1700" dy="8.8">des collègues</tspan><tspan x="1700" dy="8.8">proches, en</tspan><tspan x="1700" dy="8.8">physique</tspan></text></g>
<g id="s4"><rect class="st lime" x="1511" y="927" width="59" height="61"/><path class="bars" d="M1518 942.700H1562M1518 948H1564M1523.300 953.700H1558.300M1518 959H1563.700M1516.300 964.300H1565M1523 970.300H1557"/></g>
<g id="s5"><rect class="st lime" x="1586" y="927" width="59" height="61"/><text class="t" font-size="5.2" y="937.100"><tspan x="1615.500">Le partage</tspan><tspan x="1615.500" dy="7.2">anonyme a</tspan><tspan x="1615.500" dy="7.2">l'avantage de</tspan><tspan x="1615.500" dy="7.2">débloquer les</tspan><tspan x="1615.500" dy="7.2">retours et éviter de</tspan><tspan x="1615.500" dy="7.2">s'exposer</tspan><tspan x="1615.500" dy="7.2">personnellement</tspan></text></g>
<g id="s6"><rect class="st yellow" x="1668" y="927" width="64" height="66"/><text class="t" font-size="7.8" y="941"><tspan x="1700">Les porteurs</tspan><tspan x="1700" dy="10.7">préféreraient</tspan><tspan x="1700" dy="10.7">que le partage</tspan><tspan x="1700" dy="10.7">d'idées soit</tspan><tspan x="1700" dy="10.7">anonyme</tspan></text></g>

<g id="r1"><rect class="st lime" x="1856" y="847" width="68" height="71"/><text class="t" font-size="6.9" y="860.100"><tspan x="1890">Certains</tspan><tspan x="1890" dy="9.4">users/visiteurs</tspan><tspan x="1890" dy="9.4">aimeraient</tspan><tspan x="1890" dy="9.4">trouver des</tspan><tspan x="1890" dy="9.4">porteurs pour</tspan><tspan x="1890" dy="9.4">porter leurs idées</tspan></text></g>
<g id="r2"><rect class="st lime" x="1941" y="847" width="68" height="71"/><text class="t" font-size="6.9" y="860.100"><tspan x="1975">Certains</tspan><tspan x="1975" dy="9.4">collaborateurs</tspan><tspan x="1975" dy="9.4">utilisent déjà les</tspan><tspan x="1975" dy="9.4">brouillons</tspan><tspan x="1975" dy="9.4">comme un dépôt</tspan><tspan x="1975" dy="9.4">d'idées</tspan></text></g>
<g id="r3"><rect class="st yellow" x="2023" y="849" width="68" height="71"/><text class="t" font-size="6.9" y="862.400"><tspan x="2057">Les porteurs</tspan><tspan x="2057" dy="9.4">valorisent</tspan><tspan x="2057" dy="9.4">davantage l'avis</tspan><tspan x="2057" dy="9.4">de leurs collègues</tspan><tspan x="2057" dy="9.4">proches plus que</tspan><tspan x="2057" dy="9.4">du collectif</tspan></text></g>
<g id="r4"><rect class="st lime" x="1856" y="933" width="68" height="71"/><text class="t" font-size="6.1" y="944.400"><tspan x="1890">La raison de</tspan><tspan x="1890" dy="8.3">solliciter</tspan><tspan x="1890" dy="8.3">l'approbation du</tspan><tspan x="1890" dy="8.3">collectif est souvent</tspan><tspan x="1890" dy="8.3">pour éviter un flop</tspan><tspan x="1890" dy="8.3">(projet avec</tspan><tspan x="1890" dy="8.3">participants)</tspan></text></g>
<g id="r5"><rect class="st lime" x="1940" y="933" width="68" height="71"/><text class="t" font-size="6.1" y="944.400"><tspan x="1974">Les porteurs ont</tspan><tspan x="1974" dy="8.3">besoin de s'assurer</tspan><tspan x="1974" dy="8.3">que l'idée plaît aux</tspan><tspan x="1974" dy="8.3">autres</tspan><tspan x="1974" dy="8.3">collaborateurs</tspan><tspan x="1974" dy="8.3">avant de la lancer</tspan><tspan x="1974" dy="8.3">sur TS</tspan></text></g>

<g id="badge-c"><use href="#badge" x="426.700" y="428.300"/><circle cx="426.700" cy="428.300" r="26" fill="#3483c5"/><circle cx="454" cy="405" r="18" fill="#3b63f0"/><text class="ini" x="426.700" y="438.500">C</text><text class="num" x="454" y="413">1</text></g>
<g id="badge-s1"><use href="#badge" x="213.700" y="833.300"/><circle cx="213.700" cy="833.300" r="26" fill="#846a5e"/><circle cx="242" cy="810" r="18" fill="#3b63f0"/><text class="ini" x="213.700" y="843.500">S</text><text class="num" x="242" y="818">1</text></g>
<g id="badge-s2"><use href="#badge" x="594" y="965.700"/><circle cx="594" cy="965.700" r="26" fill="#846a5e"/><circle cx="621.700" cy="943.300" r="18" fill="#3b63f0"/><text class="ini" x="594" y="975.900">S</text><text class="num" x="621.700" y="951.300">1</text></g>
<g id="badge-s3"><use href="#badge" x="1354.700" y="818"/><circle cx="1354.700" cy="818" r="26" fill="#846a5e"/><circle cx="1382.700" cy="794.700" r="18" fill="#3b63f0"/><text class="ini" x="1354.700" y="828.200">S</text><text class="num" x="1382.700" y="802.700">1</text></g>
</svg>
